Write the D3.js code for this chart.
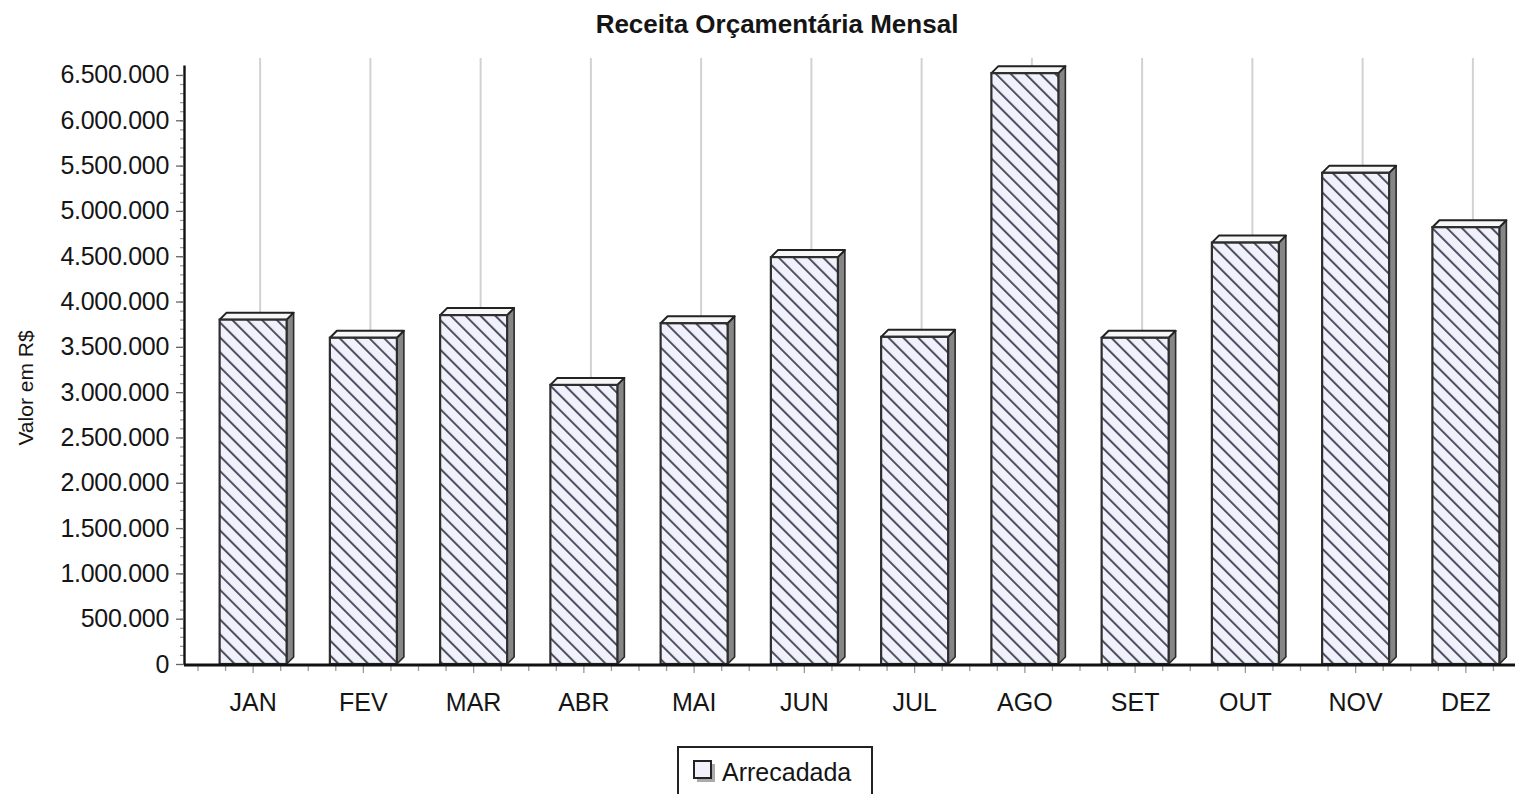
<!DOCTYPE html>
<html>
<head>
<meta charset="utf-8">
<script src="https://cdn.jsdelivr.net/npm/d3@7"></script>
<style>
  body { margin: 0; background: #fff; }
  text { font-family: "Liberation Sans", Arial, sans-serif; fill: #151515; }
</style>
</head>
<body>
<div id="chart"></div>
<script>
const svgWidth = 1521;
const svgHeight = 794;

// data
const months = ['JAN', 'FEV', 'MAR', 'ABR', 'MAI', 'JUN', 'JUL', 'AGO', 'SET', 'OUT', 'NOV', 'DEZ'];
const arrecadada = [3800000, 3600000, 3850000, 3080000, 3760000, 4490000, 3610000, 6520000, 3600000, 4650000, 5420000, 4820000];
const yTicks = [0, 500000, 1000000, 1500000, 2000000, 2500000, 3000000, 3500000, 4000000, 4500000, 5000000, 5500000, 6000000, 6500000];
const yMax = 6610000;

const chartTitle = 'Receita Orçamentária Mensal';
const yTitle = 'Valor em R$';
const seriesName = 'Arrecadada';

// 3d offset of the bars
const depthX = 7;
const depthY = 7;

const axisX = 184;
const baseY = 664;

const ptBR = d3.formatLocale({ decimal: ',', thousands: '.', grouping: [3], currency: ['R$', ''] });
const fmt = ptBR.format(',.0f');

const svg = d3.select('#chart')
    .append('svg')
    .attr('width', svgWidth)
    .attr('height', svgHeight);

const defs = svg.append('defs');
const hatch = defs.append('pattern')
    .attr('id', 'hatch')
    .attr('patternUnits', 'userSpaceOnUse')
    .attr('width', 10.5)
    .attr('height', 10.5)
    .attr('patternTransform', 'rotate(-45)');
hatch.append('rect')
    .attr('width', 10.5).attr('height', 10.5)
    .attr('fill', '#f1f1fb');
hatch.append('line')
    .attr('x1', 1).attr('y1', 0).attr('x2', 1).attr('y2', 10.5)
    .attr('stroke', '#4e4e62')
    .attr('stroke-width', 2);

const x = d3.scaleBand()
    .domain(months)
    .range([198, 1521])
    .paddingInner(0)
    .paddingOuter(0);

const y = d3.scaleLinear()
    .domain([0, yMax])
    .range([baseY, 65]);

const barW = 67;

// title
svg.append('text')
    .attr('x', 777)
    .attr('y', 33)
    .attr('text-anchor', 'middle')
    .style('font-size', '26px')
    .style('font-weight', 'bold')
    .text(chartTitle);

// vertical gridlines on the back plane
svg.append('g').selectAll('line')
    .data(months)
    .join('line')
    .attr('x1', d => x(d) + x.bandwidth() / 2 + depthX)
    .attr('x2', d => x(d) + x.bandwidth() / 2 + depthX)
    .attr('y1', y(yMax) - depthY)
    .attr('y2', y(0) - depthY)
    .attr('stroke', '#d2d2d2')
    .attr('stroke-width', 2);

// bars
const bars = svg.append('g').selectAll('g')
    .data(months.map((m, i) => ({ m, v: arrecadada[i] })))
    .join('g');

bars.append('path')
    .attr('d', d => {
        const x1 = x(d.m) + x.bandwidth() / 2 + barW / 2;
        const t = y(d.v), b = y(0);
        return `M${x1},${t}L${x1 + depthX},${t - depthY}L${x1 + depthX},${b - depthY}L${x1},${b}Z`;
    })
    .attr('fill', '#868686')
    .attr('stroke', '#2a2a2a')
    .attr('stroke-width', 1.6)
    .attr('stroke-linejoin', 'round');

bars.append('path')
    .attr('d', d => {
        const x0 = x(d.m) + x.bandwidth() / 2 - barW / 2;
        const x1 = x0 + barW;
        const t = y(d.v);
        return `M${x0},${t}L${x0 + depthX},${t - depthY}L${x1 + depthX},${t - depthY}L${x1},${t}Z`;
    })
    .attr('fill', '#f7f7f7')
    .attr('stroke', '#222')
    .attr('stroke-width', 2)
    .attr('stroke-linejoin', 'round');

bars.append('rect')
    .attr('x', d => x(d.m) + x.bandwidth() / 2 - barW / 2)
    .attr('y', d => y(d.v))
    .attr('width', barW)
    .attr('height', d => y(0) - y(d.v))
    .attr('fill', 'url(#hatch)')
    .attr('stroke', '#2e2e2e')
    .attr('stroke-width', 2.2);

// y axis, minor ticks first
const minorTicks = d3.range(0, 6500001, 100000);
svg.append('g')
    .attr('transform', `translate(${axisX},0)`)
    .call(d3.axisLeft(y).tickValues(minorTicks).tickSize(4).tickSizeOuter(0).tickFormat(''))
    .call(g => g.select('.domain').remove())
    .call(g => g.selectAll('.tick line').attr('stroke', '#999').attr('stroke-width', 1.2));

svg.append('g')
    .attr('transform', `translate(${axisX},0)`)
    .call(d3.axisLeft(y).tickValues(yTicks).tickSize(8).tickSizeOuter(0).tickPadding(7).tickFormat(fmt))
    .call(g => g.select('.domain').attr('stroke', '#111').attr('stroke-width', 2.4))
    .call(g => g.selectAll('.tick line').attr('stroke', '#666').attr('stroke-width', 1.3))
    .call(g => g.selectAll('.tick text')
        .style('font-size', '25px')
        .style('font-family', '"Liberation Sans", Arial, sans-serif')
        .style('letter-spacing', '-0.3px')
        .attr('fill', '#151515'));

// y title
svg.append('text')
    .attr('transform', 'translate(33,388) rotate(-90)')
    .attr('text-anchor', 'middle')
    .style('font-size', '21px')
    .text(yTitle);

// x axis: quarter ticks under each band
const xTicks = [];
months.forEach(m => {
    for (let k = 0; k < 4; k++) xTicks.push({ pos: x(m) + k * x.bandwidth() / 4, major: k === 2 });
});
svg.append('g').selectAll('line')
    .data(xTicks)
    .join('line')
    .attr('x1', d => d.pos).attr('x2', d => d.pos)
    .attr('y1', baseY + 2)
    .attr('y2', d => baseY + (d.major ? 9 : 7))
    .attr('stroke', '#999')
    .attr('stroke-width', 1.3);

svg.append('line')
    .attr('x1', axisX).attr('x2', 1515)
    .attr('y1', baseY + 1).attr('y2', baseY + 1)
    .attr('stroke', '#111')
    .attr('stroke-width', 3);

svg.append('g')
    .attr('transform', `translate(0,${baseY + 2})`)
    .call(d3.axisBottom(x).tickSize(0).tickPadding(27))
    .call(g => g.select('.domain').remove())
    .call(g => g.selectAll('.tick text')
        .style('font-size', '25px')
        .style('font-family', '"Liberation Sans", Arial, sans-serif')
        .attr('fill', '#151515'));

// legend
const legend = svg.append('g');
legend.append('rect')
    .attr('x', 678).attr('y', 747)
    .attr('width', 194).attr('height', 60)
    .attr('fill', '#fff')
    .attr('stroke', '#222')
    .attr('stroke-width', 2);
legend.append('rect')
    .attr('x', 697).attr('y', 764)
    .attr('width', 18).attr('height', 18)
    .attr('fill', '#aaa');
legend.append('rect')
    .attr('x', 694).attr('y', 761)
    .attr('width', 17).attr('height', 17)
    .attr('fill', '#f1f1fb')
    .attr('stroke', '#222')
    .attr('stroke-width', 2);
legend.append('text')
    .attr('x', 722).attr('y', 781)
    .style('font-size', '25px')
    .text(seriesName);
</script>
</body>
</html>
